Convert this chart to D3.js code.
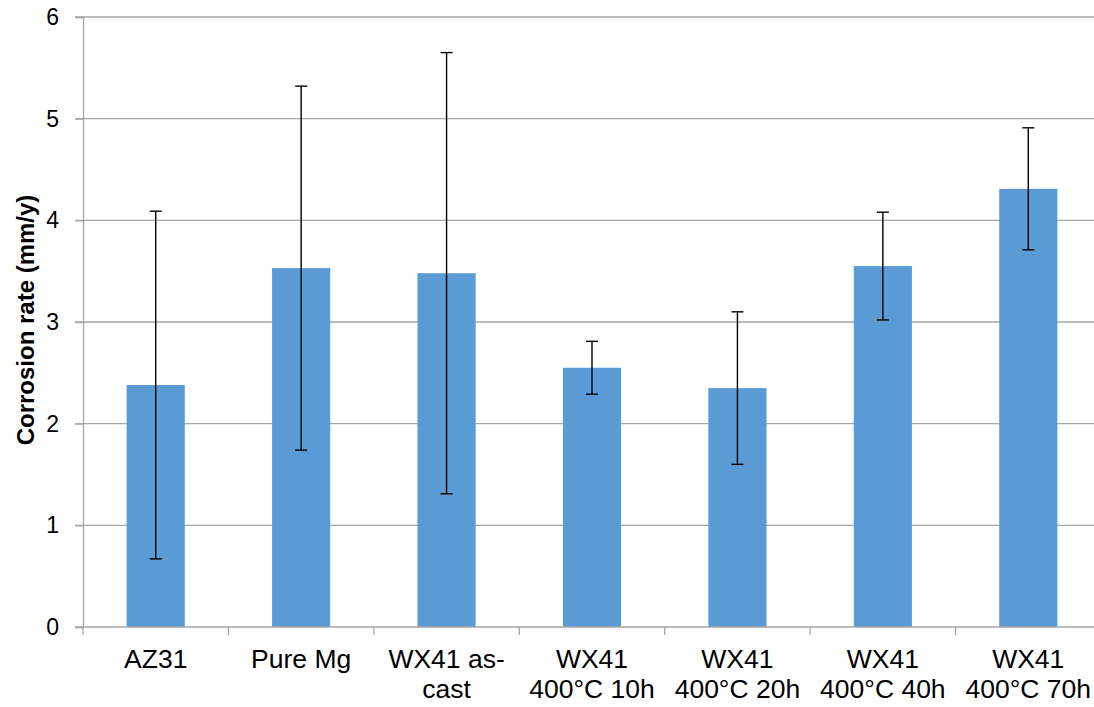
<!DOCTYPE html>
<html>
<head>
<meta charset="utf-8">
<script src="https://cdn.jsdelivr.net/npm/d3@7"></script>
<style>
  html, body { margin: 0; padding: 0; background: #fff; }
  svg { display: block; font-family: "Liberation Sans", Arial, sans-serif; }
</style>
</head>
<body>
<svg id="chart" width="1094" height="707"></svg>
<script>
// Sample names (each entry split into label lines)
const categories = [
  ["AZ31"],
  ["Pure Mg"],
  ["WX41 as-", "cast"],
  ["WX41", "400°C 10h"],
  ["WX41", "400°C 20h"],
  ["WX41", "400°C 40h"],
  ["WX41", "400°C 70h"]
];
// Mean corrosion rate (mm/y)
const rates = [2.38, 3.53, 3.48, 2.55, 2.35, 3.55, 4.31];
// Error bar half-width (mm/y)
const errors = [1.71, 1.79, 2.17, 0.26, 0.75, 0.53, 0.60];
const yTicks = [0, 1, 2, 3, 4, 5, 6];

const svg = d3.select("#chart");
const plotLeft = 83, plotRight = 1101, plotTop = 17, plotBottom = 627;

const x = d3.scaleBand()
  .domain(d3.range(categories.length))
  .range([plotLeft, plotRight])
  .padding(0);

const y = d3.scaleLinear().domain([0, 6]).range([plotBottom, plotTop]);

// Horizontal gridlines
svg.append("g")
  .selectAll("line")
  .data(yTicks.filter(d => d > 0))
  .join("line")
  .attr("x1", plotLeft - 8).attr("x2", 1094)
  .attr("y1", d => y(d)).attr("y2", d => y(d))
  .attr("stroke", "#a6a6a6").attr("stroke-width", 1.3);

// Y axis
const yAxis = svg.append("g")
  .attr("transform", `translate(${plotLeft},0)`)
  .call(d3.axisLeft(y).tickValues(yTicks).tickSize(8).tickPadding(16).tickFormat(d3.format("d")));
yAxis.select(".domain").attr("stroke", "#a6a6a6").attr("stroke-width", 1.3);
yAxis.selectAll(".tick line").attr("stroke", "#a6a6a6").attr("stroke-width", 1.3);
yAxis.selectAll(".tick text")
  .attr("font-size", 23).attr("fill", "#000")
  .attr("font-family", "Liberation Sans, Arial, sans-serif");

// Bars
const barW = x.bandwidth() * 0.4;
svg.append("g")
  .selectAll("rect")
  .data(rates)
  .join("rect")
  .attr("x", (d, i) => x(i) + (x.bandwidth() - barW) / 2)
  .attr("y", d => y(d))
  .attr("width", barW)
  .attr("height", d => y(0) - y(d))
  .attr("fill", "#5b9bd5");

// X axis baseline and category ticks
svg.append("line")
  .attr("x1", plotLeft - 8).attr("x2", 1094)
  .attr("y1", y(0)).attr("y2", y(0))
  .attr("stroke", "#a6a6a6").attr("stroke-width", 1.3);
svg.append("g")
  .selectAll("line")
  .data(d3.range(categories.length + 1))
  .join("line")
  .attr("x1", i => (i < categories.length ? x(i) : plotRight))
  .attr("x2", i => (i < categories.length ? x(i) : plotRight))
  .attr("y1", y(0)).attr("y2", y(0) + 8)
  .attr("stroke", "#a6a6a6").attr("stroke-width", 1.3);

// Error bars
const cap = 6;
const eb = svg.append("g").attr("stroke", "#000").attr("stroke-width", 1.4);
rates.forEach((v, i) => {
  const cx = x(i) + x.bandwidth() / 2;
  const hi = y(v + errors[i]), lo = y(v - errors[i]);
  eb.append("line").attr("x1", cx).attr("x2", cx).attr("y1", hi).attr("y2", lo);
  eb.append("line").attr("x1", cx - cap).attr("x2", cx + cap).attr("y1", hi).attr("y2", hi);
  eb.append("line").attr("x1", cx - cap).attr("x2", cx + cap).attr("y1", lo).attr("y2", lo);
});

// Category labels
const labels = svg.append("g")
  .attr("font-size", 26.5)
  .attr("text-anchor", "middle")
  .attr("fill", "#000");
categories.forEach((lines, i) => {
  const t = labels.append("text")
    .attr("x", x(i) + x.bandwidth() / 2)
    .attr("y", 668);
  lines.forEach((ln, k) => {
    t.append("tspan")
      .attr("x", x(i) + x.bandwidth() / 2)
      .attr("dy", k === 0 ? 0 : 30)
      .text(ln);
  });
});

// Y axis title
svg.append("text")
  .attr("transform", "translate(34,320) rotate(-90)")
  .attr("text-anchor", "middle")
  .attr("font-size", 24)
  .attr("font-weight", "bold")
  .attr("fill", "#000")
  .text("Corrosion rate (mm/y)");
</script>
</body>
</html>
